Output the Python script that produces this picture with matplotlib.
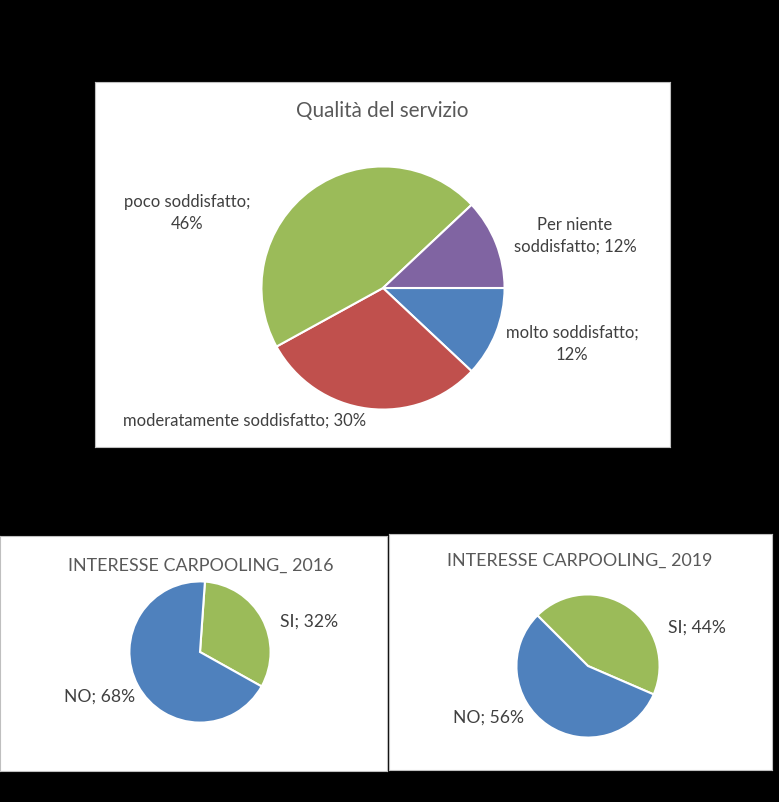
import matplotlib.pyplot as plt

W, H = 779, 803

# Qualità del servizio (ordine delle fette come in Excel, partenza a ore 3)
qualita_etichette = ["molto soddisfatto", "moderatamente soddisfatto",
                     "poco soddisfatto", "Per niente soddisfatto"]
qualita_valori = [12, 30, 46, 12]
qualita_colori = ["#4F81BD", "#C0504D", "#9BBB59", "#8064A2"]

# Interesse carpooling
carpooling_etichette = ["SI", "NO"]
carpooling_2016 = [32, 68]
carpooling_2019 = [44, 56]
carpooling_colori = ["#9BBB59", "#4F81BD"]

FONT = ["Lato", "DejaVu Sans"]
COL_TESTO = "#404040"
COL_TITOLO = "#595959"


def riquadro(x0, y0, x1, y1):
    """Converte un rettangolo in pixel (origine in alto a sinistra) in coordinate figura"""
    return [x0 / W, 1 - y1 / H, (x1 - x0) / W, (y1 - y0) / H]


def testo(fig, x, y, s, size=12, color=COL_TESTO):
    fig.text(x / W, 1 - y / H, s, ha="center", va="center", fontsize=size,
             color=color, family=FONT, linespacing=1.45)


def pannello(fig, x0, y0, x1, y1):
    ax = fig.add_axes(riquadro(x0, y0, x1, y1))
    ax.set_facecolor("white")
    ax.set_xticks([])
    ax.set_yticks([])
    for s in ax.spines.values():
        s.set_color("#bfbfbf")
        s.set_linewidth(0.8)
    return ax


def torta(fig, box, valori, colori, inizio):
    ax = fig.add_axes(riquadro(*box))
    ax.pie(valori, colors=colori, startangle=inizio, counterclock=False,
           radius=1, wedgeprops=dict(edgecolor="white", linewidth=1.5))
    ax.set_xlim(-1.02, 1.02)
    ax.set_ylim(-1.02, 1.02)
    ax.set_aspect("equal")
    ax.axis("off")
    return ax


fig = plt.figure(figsize=(W / 100, H / 100), dpi=100, facecolor="black")

# Pannello superiore
pannello(fig, 95, 83, 670, 448)
torta(fig, (259, 165, 507, 413), qualita_valori, qualita_colori, 0)
testo(fig, 382, 111, "Qualità del servizio", size=14.9, color=COL_TITOLO)
testo(fig, 187, 213, f"{qualita_etichette[2]};\n{qualita_valori[2]}%")
testo(fig, 575, 236, f"Per niente\nsoddisfatto; {qualita_valori[3]}%")
testo(fig, 572, 344, f"{qualita_etichette[0]};\n{qualita_valori[0]}%")
testo(fig, 245, 421, f"{qualita_etichette[1]}; {qualita_valori[1]}%")

# Pannello in basso a sinistra: 2016
pannello(fig, 0, 537, 387, 772)
torta(fig, (128, 581, 272, 725), carpooling_2016, carpooling_colori, 86)
testo(fig, 201, 566, "INTERESSE CARPOOLING_ 2016", size=12.9, color=COL_TITOLO)
testo(fig, 309, 622, f"{carpooling_etichette[0]}; {carpooling_2016[0]}%", size=12.6)
testo(fig, 100, 697, f"{carpooling_etichette[1]}; {carpooling_2016[1]}%", size=12.6)

# Pannello in basso a destra: 2019
pannello(fig, 389, 535, 772, 771)
torta(fig, (515, 594, 661, 740), carpooling_2019, carpooling_colori, 135)
testo(fig, 580, 561, "INTERESSE CARPOOLING_ 2019", size=12.9, color=COL_TITOLO)
testo(fig, 697, 628, f"{carpooling_etichette[0]}; {carpooling_2019[0]}%", size=12.6)
testo(fig, 489, 718, f"{carpooling_etichette[1]}; {carpooling_2019[1]}%", size=12.6)

fig.savefig("out.png", dpi=100, facecolor="black")
